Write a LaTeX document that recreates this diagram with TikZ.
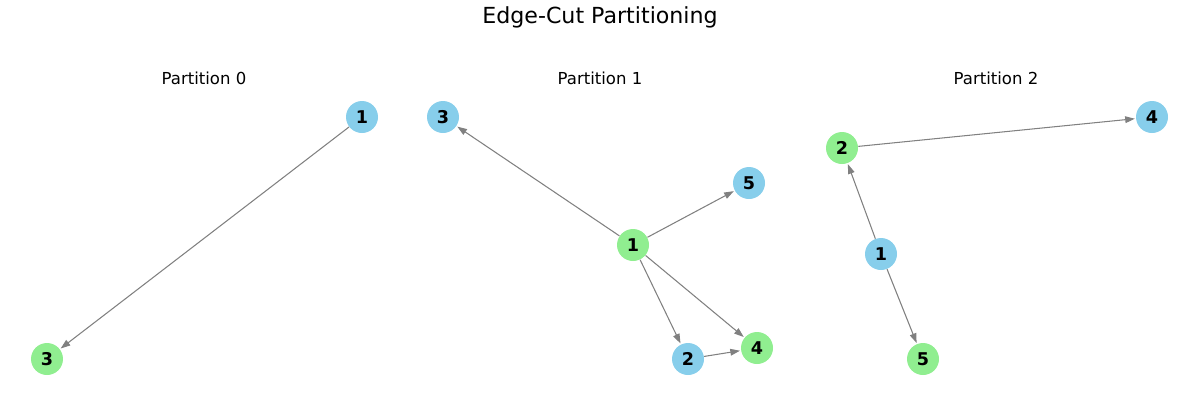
\documentclass[tikz,border=0pt]{standalone}
\usepackage{fontspec}
\setmainfont{DejaVu Sans}
\usetikzlibrary{arrows.meta}
\definecolor{skyb}{HTML}{87CEEB}
\definecolor{lgreen}{HTML}{90EE90}
\tikzset{
  nb/.style={circle,fill=skyb,minimum size=0.64cm,inner sep=0pt,font=\fontsize{10}{11}\selectfont\bfseries},
  ng/.style={nb,fill=lgreen},
  edge/.style={draw={rgb,255:red,128;green,128;blue,128},line width=0.6pt,-{Triangle[length=5.5pt,width=3.8pt]},shorten >=0.5pt},
  ttl/.style={font=\fontsize{9.4}{11}\selectfont},
}
\begin{document}
\begin{tikzpicture}[x=0.02cm,y=-0.02cm]
\useasboundingbox (0,0) rectangle (1200,400);
\node[font=\fontsize{12.6}{14}\selectfont] (title) at (600,17) {Edge-Cut Partitioning};
\node[ttl] (t0) at (204,78) {Partition 0};
\node[ttl] (t1) at (600,78) {Partition 1};
\node[ttl] (t2) at (996,78) {Partition 2};
% Partition 0
\node[nb] (a1) at (362,117) {1};
\node[ng] (a3) at (47,359) {3};
\draw[edge] (a1) -- (a3);
% Partition 1
\node[nb] (b3) at (443,117) {3};
\node[nb] (b5) at (749,183) {5};
\node[ng] (b1) at (633,245) {1};
\node[nb] (b2) at (688,359) {2};
\node[ng] (b4) at (757,348) {4};
\draw[edge] (b1) -- (b3);
\draw[edge] (b1) -- (b5);
\draw[edge] (b1) -- (b2);
\draw[edge] (b1) -- (b4);
\draw[edge] (b2) -- (b4);
% Partition 2
\node[ng] (c2) at (842,148) {2};
\node[nb] (c4) at (1152,117) {4};
\node[nb] (c1) at (881,254) {1};
\node[ng] (c5) at (923,359) {5};
\draw[edge] (c2) -- (c4);
\draw[edge] (c1) -- (c2);
\draw[edge] (c1) -- (c5);
\end{tikzpicture}
\end{document}
